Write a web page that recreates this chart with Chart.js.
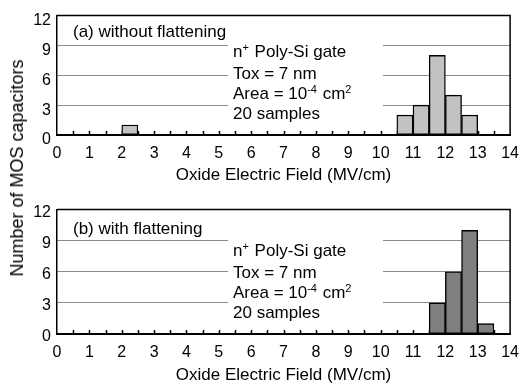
<!DOCTYPE html>
<html>
<head>
<meta charset="utf-8">
<script src="https://cdn.jsdelivr.net/npm/chart.js@4.4.1/dist/chart.umd.min.js"></script>
<style>
  body { margin: 0; background: #fff; }
  #wrap { position: relative; width: 528px; height: 388px; }
  canvas { position: absolute; left: 0; }
  #chartA { top: 0; }
  #chartB { top: 194px; }
  #ytitle {
    position: absolute; left: 17px; top: 168px;
    transform: translate(-50%, -50%) rotate(-90deg);
    font: 18px 'Liberation Sans', Arial, sans-serif; line-height: 18px;
    white-space: nowrap; color: #000;
  }
</style>
</head>
<body>
<div id="wrap">
  <canvas id="chartA" width="528" height="194"></canvas>
  <canvas id="chartB" width="528" height="194"></canvas>
  <div id="ytitle">Number of MOS capacitors</div>
</div>
<script>
// histogram data, bins are 0.5 MV/cm wide
const binWidth = 0.5;
const binStartA = [2.0, 10.5, 11.0, 11.5, 12.0, 12.5];
const countA = [1, 2, 3, 8, 4, 2];
const binStartB = [11.5, 12.0, 12.5, 13.0];
const countB = [3, 6, 10, 1];

const xTickValues = [0, 1, 2, 3, 4, 5, 6, 7, 8, 9, 10, 11, 12, 13, 14];
const xTickLabels = ['0', '1', '2', '3', '4', '5', '6', '7', '8', '9', '10', '11', '12', '13', '14'];
const yTickValues = [0, 3, 6, 9, 12];

const titleA = '(a) without flattening';
const titleB = '(b) with flattening';
// note text split in runs so superscripts can be drawn smaller
const noteLines = [
    [['n'], ['+', true], [' Poly-Si gate']],
    [['Tox = 7 nm']],
    [['Area = 10'], ['-4', true], [' cm'], ['2', true]],
    [['20 samples']]
];

Chart.defaults.font.family = "'Liberation Sans', Arial, sans-serif";
Chart.defaults.color = '#000';

function drawRuns(ctx, runs, x, y) {
    runs.forEach(([text, sup]) => {
        ctx.font = sup ? "11px 'Liberation Sans', Arial, sans-serif" : "17px 'Liberation Sans', Arial, sans-serif";
        ctx.fillText(text, x, sup ? y - 6 : y);
        x += ctx.measureText(text).width + (sup ? 1 : 0);
    });
}

function decor(title, titleDy) {
    return {
        id: 'decor',
        beforeDatasetsDraw(chart) {
            const { ctx, chartArea: a, scales: { x } } = chart;
            ctx.save();
            // white box behind the note hides the grid lines
            ctx.fillStyle = '#fff';
            ctx.fillRect(a.left + 171, a.top + 22, 155, a.bottom - a.top - 32);
            // inward minor ticks every half bin
            ctx.strokeStyle = '#000';
            ctx.lineWidth = 1.5;
            ctx.beginPath();
            for (let v = binWidth; v < 14; v += binWidth) {
                const px = Math.round(x.getPixelForValue(v)) + 0.5;
                ctx.moveTo(px, a.bottom);
                ctx.lineTo(px, a.bottom - 4);
            }
            ctx.stroke();
            // labels
            ctx.fillStyle = '#000';
            ctx.textBaseline = 'alphabetic';
            ctx.font = "17px 'Liberation Sans', Arial, sans-serif";
            ctx.fillText(title, a.left + 16, a.top + titleDy);
            const offs = [78, 56, 36.5, 16.5];
            noteLines.forEach((runs, i) => drawRuns(ctx, runs, a.left + 176, a.bottom - offs[i]));
            ctx.restore();
        },
        afterDatasetsDraw(chart) {
            const { ctx, chartArea: a } = chart;
            ctx.save();
            ctx.strokeStyle = '#000';
            ctx.lineWidth = 1.5;
            ctx.beginPath();
            ctx.moveTo(a.left, a.top);
            ctx.lineTo(a.right, a.top);
            ctx.lineTo(a.right, a.bottom);
            ctx.stroke();
            ctx.restore();
        }
    };
}

function makeChart(id, starts, counts, fill, o) {
    return new Chart(document.getElementById(id), {
        type: 'bar',
        data: {
            datasets: [{
                data: starts.map((s, i) => ({ x: s + binWidth / 2, y: counts[i] })),
                backgroundColor: fill,
                borderColor: '#000',
                borderWidth: 1.4,
                borderSkipped: false,
                categoryPercentage: 1,
                barPercentage: 1
            }]
        },
        options: {
            responsive: false,
            animation: false,
            devicePixelRatio: 1,
            layout: { padding: { top: o.top, right: 16, left: 0, bottom: 0 } },
            plugins: { legend: { display: false }, tooltip: { enabled: false } },
            scales: {
                x: {
                    type: 'linear',
                    min: 0,
                    max: 14,
                    offset: false,
                    afterBuildTicks: s => { s.ticks = xTickValues.map(v => ({ value: v })); },
                    afterFit: s => { s.height = o.xh; },
                    ticks: {
                        autoSkip: false,
                        maxRotation: 0,
                        padding: 9,
                        font: { size: 16 },
                        callback: v => xTickLabels[xTickValues.indexOf(v)]
                    },
                    grid: { display: false, drawTicks: false },
                    border: { color: '#000', width: 2 },
                    title: {
                        display: true,
                        text: 'Oxide Electric Field (MV/cm)',
                        font: { size: 17 },
                        padding: { top: 0, bottom: o.tpad }
                    }
                },
                y: {
                    min: 0,
                    max: 12,
                    afterBuildTicks: s => { s.ticks = yTickValues.map(v => ({ value: v })); },
                    afterFit: s => { s.width = 57; },
                    ticks: { padding: 6, font: { size: 16 }, labelOffset: o.lo },
                    grid: {
                        drawTicks: false,
                        color: c => (c.tick && (c.tick.value === 0 || c.tick.value === 12)) ? 'rgba(0,0,0,0)' : '#8a8a8a',
                        lineWidth: 1
                    },
                    border: { color: '#000', width: 1.5 }
                }
            }
        },
        plugins: [decor(o.title, o.titleDy)]
    });
}

makeChart('chartA', binStartA, countA, '#c2c2c2', { top: 9, xh: 59, tpad: 8, lo: 5, title: titleA, titleDy: 21 });
makeChart('chartB', binStartB, countB, '#7f7f7f', { top: 13, xh: 54, tpad: 2, lo: 3, title: titleB, titleDy: 24 });
</script>
</body>
</html>
